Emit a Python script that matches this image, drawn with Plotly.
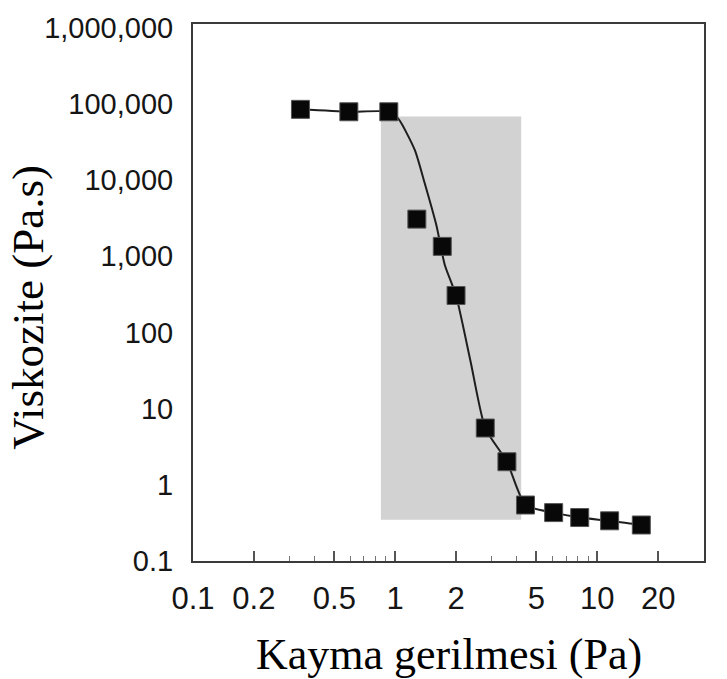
import plotly.graph_objects as go

# Measured viscosity vs. shear stress (markers)
stress = [0.34, 0.59, 0.93, 1.28, 1.71, 2.0, 2.79, 3.57, 4.41, 6.08, 8.18, 11.5, 16.5]
viscosity = [85000, 79000, 79000, 3080, 1350, 306, 5.57, 2.01, 0.543, 0.432, 0.372, 0.337, 0.297]

# Fitted flow curve
curve_stress = [0.34, 0.59, 0.93, 1.04, 1.25, 1.40, 1.60, 1.76, 2.0, 2.36, 2.79, 3.57, 4.41,
                6.08, 8.18, 11.5, 16.5]
curve_visc = [85000, 79000, 79000, 63200, 24900, 9080, 2530, 769, 306, 41.7, 5.57, 2.01, 0.543,
              0.432, 0.372, 0.337, 0.297]

# Yield-stress transition band
band_stress = [0.85, 4.2]
band_visc = [0.347, 68500]

x_tickvals = [0.1, 0.2, 0.5, 1, 2, 5, 10, 20]
x_ticktext = ["0.1", "0.2", "0.5", "1", "2", "5", "10", "20"]
x_minor = [0.3, 0.4, 0.6, 0.7, 0.8, 0.9, 3, 4, 6, 7, 8, 9]
y_tickvals = [0.1, 1, 10, 100, 1000, 10000, 100000, 1000000]
y_ticktext = ["0.1", "1", "10", "100", "1,000", "10,000", "100,000", "1,000,000"]

fig = go.Figure()

fig.add_shape(type="rect", xref="x", yref="y",
              x0=band_stress[0], x1=band_stress[1], y0=band_visc[0], y1=band_visc[1],
              fillcolor="#d2d2d2", line=dict(width=0), layer="below")

fig.add_trace(go.Scatter(x=curve_stress, y=curve_visc, mode="lines",
                         line=dict(color="#1e1e1e", width=2, shape="spline", smoothing=0.6),
                         hoverinfo="skip", showlegend=False))
fig.add_trace(go.Scatter(x=stress, y=viscosity, mode="markers",
                         marker=dict(symbol="square", size=18, color="#080808",
                                     line=dict(color="#555555", width=1)),
                         showlegend=False))

sans = "Liberation Sans, Arial, sans-serif"

fig.update_xaxes(type="log", range=[-1, 1.5275],
                 tickvals=x_tickvals, ticktext=x_ticktext,
                 ticks="inside", ticklen=10, tickwidth=1.5, tickcolor="#555555",
                 minor=dict(tickvals=x_minor, ticks="inside", ticklen=5, tickwidth=1.2,
                            tickcolor="#777777", showgrid=False),
                 showline=True, linecolor="#3a3a3a", linewidth=2, mirror=True,
                 showgrid=False, zeroline=False,
                 tickfont=dict(family=sans, size=31, color="#151515"), ticklabelstandoff=9)
fig.update_yaxes(type="log", range=[-1, 6.05],
                 tickvals=y_tickvals, ticktext=y_ticktext, ticks="",
                 showline=True, linecolor="#3a3a3a", linewidth=2, mirror=True,
                 showgrid=False, zeroline=False,
                 tickfont=dict(family=sans, size=29, color="#151515"), ticklabelstandoff=12)

title_font = dict(family="Liberation Serif, Times New Roman, serif", color="#000000")
fig.add_annotation(text="Kayma gerilmesi (Pa)", xref="paper", yref="paper",
                   x=0.5, y=-0.174, xanchor="center", yanchor="middle",
                   showarrow=False, font=dict(size=44, **title_font))
fig.add_annotation(text="Viskozite (Pa.s)", xref="paper", yref="paper",
                   x=-0.322, y=0.4725, xanchor="center", yanchor="middle", textangle=-90,
                   showarrow=False, font=dict(size=45, **title_font))

fig.update_layout(width=727, height=679,
                  margin=dict(l=193, r=23, t=15, b=118),
                  paper_bgcolor="white", plot_bgcolor="white")

fig.write_html("out.html")
